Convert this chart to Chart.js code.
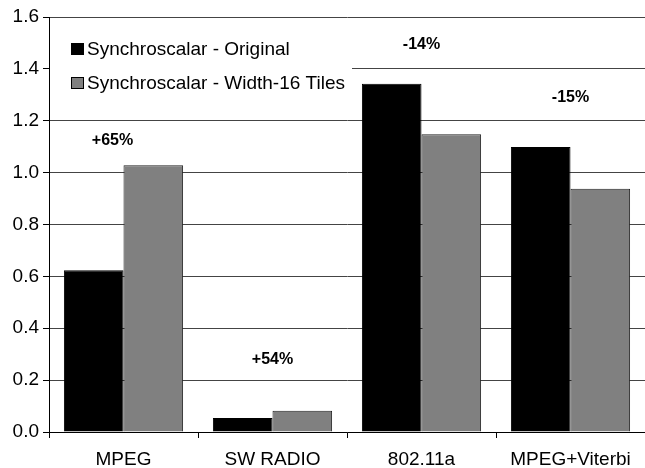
<!DOCTYPE html>
<html>
<head>
<meta charset="utf-8">
<script src="https://cdn.jsdelivr.net/npm/chart.js@4/dist/chart.umd.min.js"></script>
<style>
  html, body { margin: 0; padding: 0; background: #fff; }
  #wrap { width: 645px; height: 468px; }
</style>
</head>
<body>
<div id="wrap"><canvas id="chart" width="645" height="468"></canvas></div>
<script>
const categories = ['MPEG', 'SW RADIO', '802.11a', 'MPEG+Viterbi'];
const originalValues = [0.624, 0.054, 1.343, 1.099];
const tileValues = [1.028, 0.082, 1.148, 0.938];
const changeLabels = ['+65%', '+54%', '-14%', '-15%'];
const changeLabelY = [1.125, 0.28, 1.495, 1.29];
const seriesNames = ['Synchroscalar - Original', 'Synchroscalar - Width-16 Tiles'];

const font = '"Liberation Sans", Arial, sans-serif';

// legend box drawn inside the plot, white background hides the grid line
const legendBox = {
    id: 'legendBox',
    afterDatasetsDraw(chart) {
        const ctx = chart.ctx;
        const area = chart.chartArea;
        ctx.save();
        ctx.fillStyle = '#fff';
        ctx.fillRect(area.left + 1, 30, 302, 72);
        ctx.font = '19px ' + font;
        ctx.textBaseline = 'middle';
        chart.data.datasets.forEach((ds, i) => {
            let y = 49 + i * 34;
            ctx.fillStyle = ds.backgroundColor;
            ctx.fillRect(71, y - 6, 13, 12);
            ctx.strokeStyle = '#000';
            ctx.lineWidth = 1;
            ctx.strokeRect(71.5, y - 5.5, 12, 11);
            ctx.fillStyle = '#000';
            ctx.fillText(ds.label, 87, y + 1);
        });
        ctx.restore();
    }
};

const changeText = {
    id: 'changeText',
    afterDatasetsDraw(chart) {
        const ctx = chart.ctx;
        const xs = chart.scales.x, ys = chart.scales.y;
        const shift = [-11, 0, 0, 0];
        ctx.save();
        ctx.font = 'bold 16px ' + font;
        ctx.fillStyle = '#000';
        ctx.textAlign = 'center';
        ctx.textBaseline = 'middle';
        changeLabels.forEach((t, i) => {
            ctx.fillText(t, xs.getPixelForValue(i) + shift[i], ys.getPixelForValue(changeLabelY[i]));
        });
        ctx.restore();
    }
};

new Chart(document.getElementById('chart').getContext('2d'), {
    type: 'bar',
    data: {
        labels: categories,
        datasets: [{
            label: seriesNames[0],
            data: originalValues,
            backgroundColor: '#000000',
            borderColor: '#000000',
            borderWidth: 1,
            categoryPercentage: 0.8,
            barPercentage: 1.0
        }, {
            label: seriesNames[1],
            data: tileValues,
            backgroundColor: '#808080',
            borderColor: '#222222',
            borderWidth: 1,
            categoryPercentage: 0.8,
            barPercentage: 1.0
        }]
    },
    options: {
        responsive: false,
        animation: false,
        layout: { padding: { top: 17, right: 0, left: 0, bottom: 0 } },
        plugins: {
            legend: { display: false },
            tooltip: { enabled: false }
        },
        scales: {
            x: {
                grid: {
                    display: true,
                    drawOnChartArea: false,
                    drawTicks: true,
                    tickLength: 6,
                    offset: true,
                    color: '#000'
                },
                border: { color: '#000', width: 1 },
                ticks: {
                    color: '#000',
                    font: { family: font, size: 19 },
                    padding: 10
                },
                afterFit(scale) { scale.height = 36; }
            },
            y: {
                min: 0,
                max: 1.6,
                ticks: {
                    stepSize: 0.2,
                    color: '#000',
                    font: { family: font, size: 19 },
                    padding: 4,
                    callback: v => v.toFixed(1)
                },
                grid: {
                    color: '#444',
                    lineWidth: 1,
                    tickLength: 6,
                    tickColor: '#000'
                },
                border: { color: '#000', width: 1 },
                afterFit(scale) { scale.width = 49; }
            }
        }
    },
    plugins: [legendBox, changeText]
});
</script>
</body>
</html>
